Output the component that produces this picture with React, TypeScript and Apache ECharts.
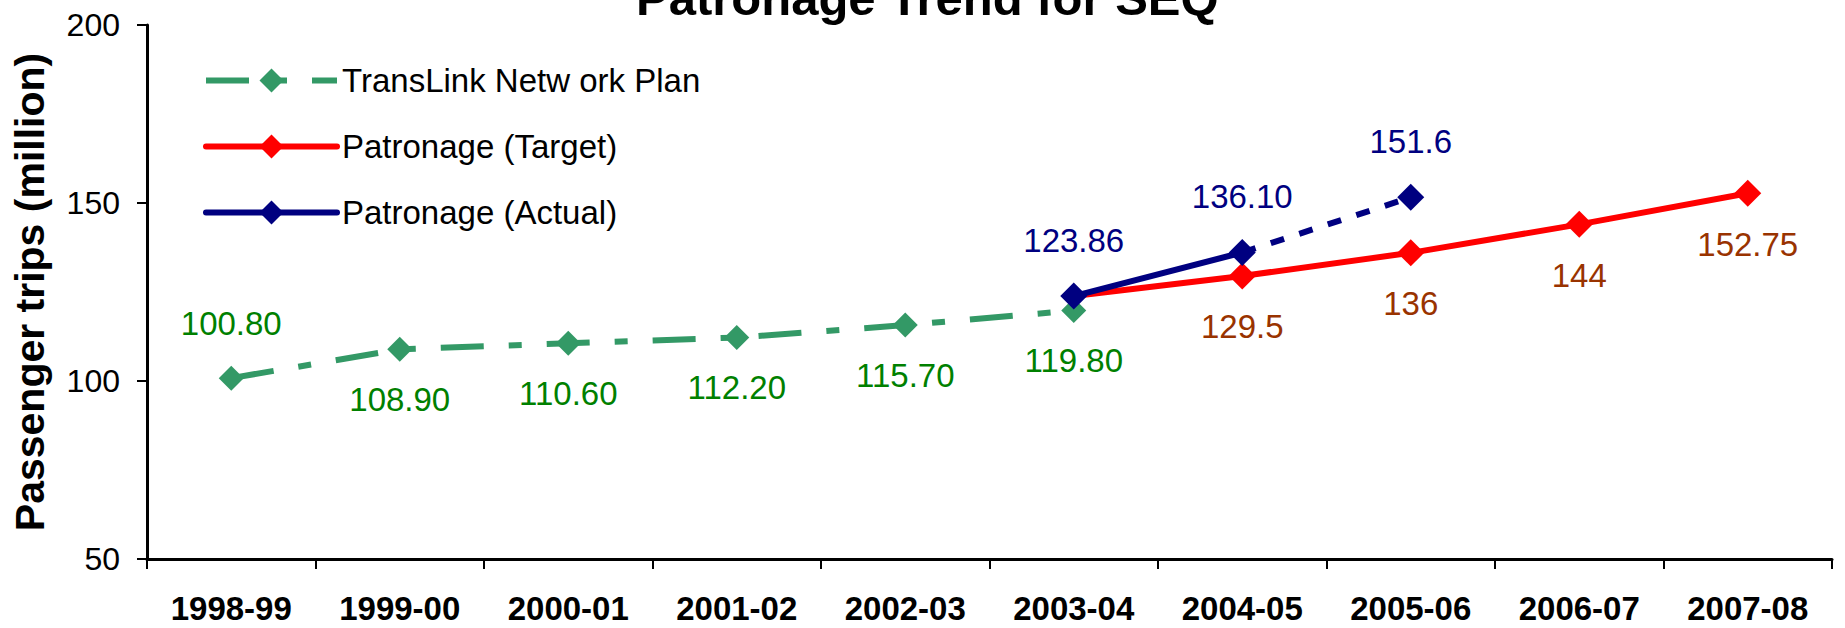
import React, { useEffect, useRef } from "react";
import * as echarts from "echarts";

const categories = [
  "1998-99", "1999-00", "2000-01", "2001-02", "2002-03",
  "2003-04", "2004-05", "2005-06", "2006-07", "2007-08",
];
const networkPlan = [100.8, 108.9, 110.6, 112.2, 115.7, 119.8, null, null, null, null];
const patronageTarget = [null, null, null, null, null, 123.86, 129.5, 136, 144, 152.75];
const patronageActual = [null, null, null, null, null, 123.86, 136.1, null, null, null];
const patronageProjected = [null, null, null, null, null, null, 136.1, 151.6, null, null];
const yMin = 50;
const yMax = 200;
const yStep = 50;

const FF = "'Liberation Sans', Arial, Helvetica, sans-serif";
const NAME_PLAN = "TransLink Netw ork Plan";
const NAME_TARGET = "Patronage (Target)";
const NAME_ACTUAL = "Patronage (Actual)";

export default function App() {
  const ref = useRef<HTMLDivElement>(null);
  useEffect(() => {
    if (!ref.current) return;
    const chart = echarts.init(ref.current, undefined, { renderer: "svg" });
    const firstTarget = patronageTarget.findIndex((v) => v != null);
    const firstProj = patronageProjected.findIndex((v) => v != null);
    const option: any = {
      animation: false,
      backgroundColor: "#ffffff",
      title: {
        text: "Patronage Trend for SEQ",
        left: 631,
        top: -32,
        textStyle: { fontFamily: FF, fontSize: 49, fontWeight: "bold", color: "#000" },
      },
      legend: {
        orient: "vertical",
        left: 203,
        top: 64,
        padding: 0,
        itemWidth: 131,
        itemHeight: 30,
        itemGap: 33,
        selectedMode: false,
        data: [NAME_PLAN, NAME_TARGET, NAME_ACTUAL],
        lineStyle: { width: 6 },
        textStyle: { fontFamily: FF, fontSize: 33, color: "#000" },
      },
      grid: { left: 147, right: 13, top: 25, bottom: 69 },
      xAxis: {
        type: "category",
        data: categories,
        boundaryGap: true,
        axisLine: { lineStyle: { color: "#000", width: 3 } },
        axisTick: { show: true, length: 10, lineStyle: { color: "#000", width: 2 } },
        axisLabel: {
          interval: 0,
          margin: 33,
          fontFamily: FF,
          fontSize: 33,
          fontWeight: "bold",
          color: "#000",
        },
        splitLine: { show: false },
      },
      yAxis: {
        type: "value",
        min: yMin,
        max: yMax,
        interval: yStep,
        name: "Passenger trips (million)",
        nameLocation: "middle",
        nameGap: 97,
        nameTextStyle: { fontFamily: FF, fontSize: 41, fontWeight: "bold", color: "#000" },
        axisLine: { show: true, lineStyle: { color: "#000", width: 3 } },
        axisTick: { show: true, length: 10, lineStyle: { color: "#000", width: 2 } },
        axisLabel: { margin: 27, fontFamily: FF, fontSize: 32, color: "#000" },
        splitLine: { show: false },
      },
      series: [
        {
          name: NAME_PLAN,
          type: "line",
          data: networkPlan.map((v, i) =>
            v == null
              ? null
              : { value: v, label: i === 0 ? { position: "top", distance: 26 } : { position: "bottom", distance: 21 } }
          ),
          symbol: "diamond",
          symbolSize: 25,
          itemStyle: { color: "#339966" },
          lineStyle: { color: "#339966", width: 6, type: [43, 25, 13, 25], cap: "butt" },
          label: {
            show: true,
            formatter: (p: any) => Number(p.value).toFixed(2),
            color: "#008000",
            fontFamily: FF,
            fontSize: 33,
          },
        },
        {
          name: NAME_TARGET,
          type: "line",
          data: patronageTarget.map((v, i) =>
            v == null ? null : i === firstTarget ? { value: v, symbol: "none", label: { show: false } } : v
          ),
          symbol: "diamond",
          symbolSize: 27,
          itemStyle: { color: "#ff0000" },
          lineStyle: { color: "#ff0000", width: 6, cap: "round" },
          label: {
            show: true,
            position: "bottom",
            distance: 21,
            formatter: (p: any) => String(p.value),
            color: "#993300",
            fontFamily: FF,
            fontSize: 33,
          },
        },
        {
          name: NAME_ACTUAL,
          type: "line",
          data: patronageActual,
          symbol: "diamond",
          symbolSize: 27,
          itemStyle: { color: "#000080" },
          lineStyle: { color: "#000080", width: 6, cap: "round" },
          label: {
            show: true,
            position: "top",
            distance: 26,
            formatter: (p: any) => Number(p.value).toFixed(2),
            color: "#000080",
            fontFamily: FF,
            fontSize: 33,
          },
        },
        {
          name: NAME_ACTUAL,
          type: "line",
          data: patronageProjected.map((v, i) =>
            v == null ? null : i === firstProj ? { value: v, symbol: "none", label: { show: false } } : v
          ),
          symbol: "diamond",
          symbolSize: 27,
          itemStyle: { color: "#000080" },
          lineStyle: { color: "#000080", width: 6, type: [14, 16] },
          label: {
            show: true,
            position: "top",
            distance: 26,
            formatter: (p: any) => String(p.value),
            color: "#000080",
            fontFamily: FF,
            fontSize: 33,
          },
        },
      ],
    };
    chart.setOption(option);
    return () => chart.dispose();
  }, []);
  return (
    <div
      ref={ref}
      style={{ position: "absolute", left: 0, top: 0, width: 1845, height: 628, background: "#fff" }}
    />
  );
}
